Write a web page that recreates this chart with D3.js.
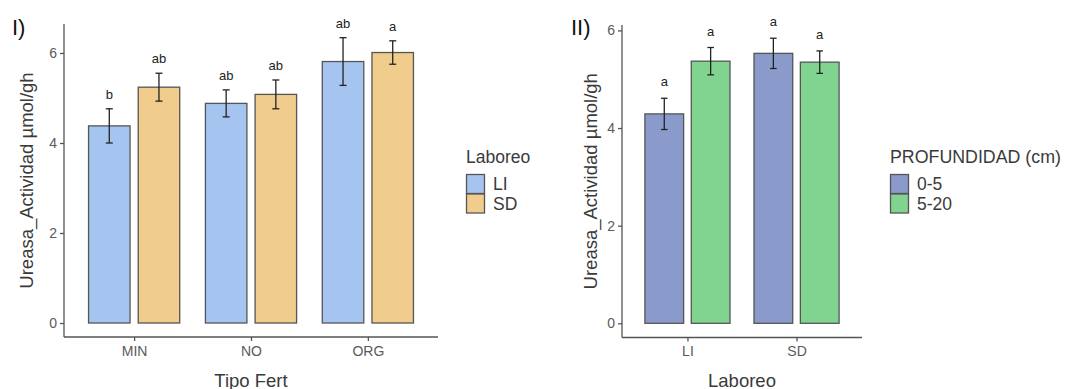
<!DOCTYPE html>
<html><head><meta charset="utf-8">
<script src="https://cdn.jsdelivr.net/npm/d3@7"></script>
<style>
body{margin:0;background:#fff;}
text{font-family:"Liberation Sans",Arial,sans-serif;}
</style></head>
<body><svg id="c" width="1076" height="389"></svg>
<script>
// Panel I data
const catsI = ["MIN","NO","ORG"];
const groupsI = ["LI","SD"];
const meanI_LI = [4.38, 4.88, 5.81];
const meanI_SD = [5.24, 5.08, 6.01];
const seI_LI = [0.38, 0.30, 0.53];
const seI_SD = [0.31, 0.32, 0.26];
const lettersI_LI = ["b","ab","ab"];
const lettersI_SD = ["ab","ab","a"];
const colorsI = ["#A6C4F0","#F0CD8C"];

// Panel II data
const catsII = ["LI","SD"];
const groupsII = ["0-5","5-20"];
const meanII_05 = [4.29, 5.53];
const meanII_520 = [5.37, 5.35];
const seII_05 = [0.32, 0.31];
const seII_520 = [0.28, 0.23];
const lettersII_05 = ["a","a"];
const lettersII_520 = ["a","a"];
const colorsII = ["#8A9BCB","#80D490"];

const yTicks = [0,2,4,6];

const svg = d3.select("#c");
const axisCol = "#5a5a5a";
const titleCol = "#3a3a3a";

function panel(o){
  const g = svg.append("g");
  const n = o.cats.length;
  const x = d3.scaleLinear().domain([-0.6, n-1+0.6]).range([o.x0, o.x1]);
  const y = d3.scaleLinear().domain(o.ydom).range([o.y1, o.y0]);
  const bw = 0.355, off = 0.2125;
  const rows = [];
  o.cats.forEach((c,i)=>{
    o.groups.forEach((gname,j)=>{
      rows.push({i, j, m:o.means[j][i], se:o.ses[j][i], l:o.letters[j][i]});
    });
  });
  // bars
  g.selectAll("rect.bar").data(rows).enter().append("rect")
    .attr("x", d=> x(d.i + (d.j===0?-off:off) - bw/2))
    .attr("width", d=> x(bw) - x(0))
    .attr("y", d=> y(d.m))
    .attr("height", d=> y(0)-y(d.m))
    .attr("fill", d=> o.colors[d.j])
    .attr("stroke", "#555").attr("stroke-width", 1.3);
  // error bars
  const cap = 0.03;
  rows.forEach(d=>{
    const cx = x(d.i + (d.j===0?-off:off));
    const w = x(cap)-x(0);
    g.append("line").attr("x1",cx).attr("x2",cx).attr("y1",y(d.m+d.se)).attr("y2",y(d.m-d.se)).attr("stroke","#222").attr("stroke-width",1.3);
    [d.m+d.se, d.m-d.se].forEach(v=>{
      g.append("line").attr("x1",cx-w).attr("x2",cx+w).attr("y1",y(v)).attr("y2",y(v)).attr("stroke","#222").attr("stroke-width",1.3);
    });
    g.append("text").attr("x",cx).attr("y",y(d.m+d.se)-o.lab).attr("text-anchor","middle")
      .attr("font-size",13).attr("fill","#222").text(d.l);
  });
  // axes
  const ya = g.append("g").attr("transform",`translate(${o.x0},0)`)
    .call(d3.axisLeft(y).tickValues(yTicks).tickSize(4).tickPadding(3).tickFormat(d3.format("d")));
  const xa = g.append("g").attr("transform",`translate(0,${o.y1})`)
    .call(d3.axisBottom(x).tickValues(d3.range(n)).tickSize(4).tickPadding(5).tickFormat(i=>o.cats[i]));
  [ya,xa].forEach(a=>{
    a.select(".domain").attr("stroke","#555").attr("stroke-width",1.3);
    a.selectAll(".tick line").attr("stroke","#555").attr("stroke-width",1.3);
    a.selectAll(".tick text").attr("fill",axisCol).attr("font-size",14).attr("font-family","Liberation Sans,Arial,sans-serif");
  });
  ya.select(".domain").attr("d",`M0,${o.y0}V${o.y1}`);
  xa.select(".domain").attr("d",`M${o.x0},0H${o.x1}`);
  // titles
  g.append("text").attr("transform",`translate(${o.ytx},${(o.y0+o.y1)/2}) rotate(-90)`)
    .attr("text-anchor","middle").attr("font-size",18.5).attr("fill",titleCol).text("Ureasa_Actividad µmol/gh");
  g.append("text").attr("x",(o.x0+o.x1)/2).attr("y",387).attr("text-anchor","middle")
    .attr("font-size",18.5).attr("fill",titleCol).text(o.xtitle);
  g.append("text").attr("x",o.tagx).attr("y",35).attr("font-size",22).attr("fill","#111").text(o.tag);
  // legend
  g.append("text").attr("x",o.lx).attr("y",163).attr("font-size",o.lfs).attr("fill",titleCol).text(o.ltitle);
  o.groups.forEach((gn,j)=>{
    g.append("rect").attr("x",o.lx+0.5).attr("y",174.5+j*19.5).attr("width",18).attr("height",19)
      .attr("fill",o.colors[j]).attr("stroke","#555").attr("stroke-width",1.3);
    g.append("text").attr("x",o.lx+27).attr("y",190+j*19.5).attr("font-size",17.5).attr("fill",titleCol).text(gn);
  });
}

panel({cats:catsI, groups:groupsI, means:[meanI_LI,meanI_SD], ses:[seI_LI,seI_SD], letters:[lettersI_LI,lettersI_SD],
  colors:colorsI, x0:64, x1:438, y0:24, y1:337, ydom:[-0.311, 6.644], lab:10, ytx:33, xtitle:"Tipo Fert",
  tag:"I)", tagx:12, lx:466, ltitle:"Laboreo", lfs:17.5});
panel({cats:catsII, groups:groupsII, means:[meanII_05,meanII_520], ses:[seII_05,seII_520], letters:[lettersII_05,lettersII_520],
  colors:colorsII, x0:622, x1:862, y0:25, y1:337.5, ydom:[-0.291, 6.111], lab:12, ytx:597, xtitle:"Laboreo",
  tag:"II)", tagx:571, lx:890, ltitle:"PROFUNDIDAD (cm)", lfs:17.8});
</script></body></html>
